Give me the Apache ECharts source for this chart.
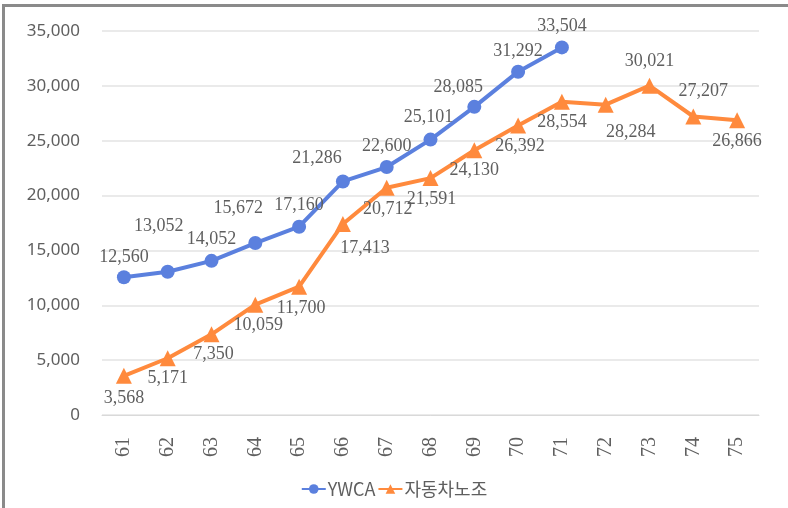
<!DOCTYPE html>
<html><head><meta charset="utf-8">
<script src="https://cdn.jsdelivr.net/npm/echarts@6/dist/echarts.min.js"></script>
<style>html,body{margin:0;padding:0;background:#fff}#c{width:788px;height:508px}</style>
</head><body><div id="c"></div>
<script>
var categories = ['61','62','63','64','65','66','67','68','69','70','71','72','73','74','75'];
var ywca = [12560,13052,14052,15672,17160,21286,22600,25101,28085,31292,33504,null,null,null,null];
var auto = [3568,5171,7350,10059,11700,17413,20712,21591,24130,26392,28554,28284,30021,27207,26866];
var yTicks = [0,5000,10000,15000,20000,25000,30000,35000];
var seriesNames = ['YWCA','자동차노조'];

// label placement (style only)
var ywcaOff = [[0,-20],[-9,-46],[0,-22],[-17,-35],[0,-21],[-26,-23],[0,-21],[-2,-22],[-16,-20],[0,-20],[0,-21]];
var autoOff = [[0,22],[0,20],[2,20],[3,21],[2,22],[22,24],[1,22],[1,21],[0,20],[2,21],[0,21],[25,28],[0,-24],[10,-25],[0,21]];

function fmt(v){return v.toLocaleString('en-US');}
function build(vals, offs){
  return vals.map(function(v,i){
    if(v===null) return null;
    return {value:v, label:{show:true, position:'inside', offset:offs[i], formatter:fmt(v)}};
  });
}
var serif = 'Liberation Serif, DejaVu Serif, serif';
var labelFont = {color:'#5f5f5f', fontSize:18, fontFamily:serif};
var chart = echarts.init(document.getElementById('c'));
chart.setOption({
  animation:false,
  backgroundColor:'#fff',
  graphic:[
    {type:'rect', shape:{x:2,y:4,width:3,height:504}, style:{fill:'#8a8a8a'}},
    {type:'rect', shape:{x:2,y:4,width:786,height:3}, style:{fill:'#8a8a8a'}}
  ],
  grid:{left:102,right:29,top:31,bottom:93},
  legend:{
    bottom:5, left:'center', itemWidth:24, itemHeight:12, itemGap:2,
    textStyle:{color:'#5f5f5f', fontSize:18, fontFamily:'Noto Sans CJK KR, sans-serif', padding:[0,0,0,-3]},
    data:seriesNames
  },
  xAxis:{type:'category', data:categories, boundaryGap:true,
    axisLine:{lineStyle:{color:'#d9d9d9'}}, axisTick:{show:false},
    axisLabel:{rotate:90, color:'#5f5f5f', fontSize:20, margin:22, fontFamily:serif}},
  yAxis:{type:'value', min:yTicks[0], max:yTicks[yTicks.length-1], interval:5000,
    axisLine:{show:false}, axisTick:{show:false},
    splitLine:{lineStyle:{color:'#e3e3e3', width:1.5}},
    axisLabel:{color:'#5f5f5f', fontSize:17, margin:22, fontFamily:'Noto Sans, sans-serif', formatter:function(v){return fmt(v);}}},
  series:[
    {name:seriesNames[0], type:'line', data:build(ywca, ywcaOff), symbol:'circle', symbolSize:14,
     lineStyle:{width:4, color:'#5b80de'}, itemStyle:{color:'#5b80de'}, label:labelFont, connectNulls:false, z:3},
    {name:seriesNames[1], type:'line', data:build(auto, autoOff), symbol:'triangle', symbolSize:16,
     lineStyle:{width:4, color:'#ff8a3d'}, itemStyle:{color:'#ff8a3d'}, label:labelFont, z:2}
  ]
});
</script></body></html>
